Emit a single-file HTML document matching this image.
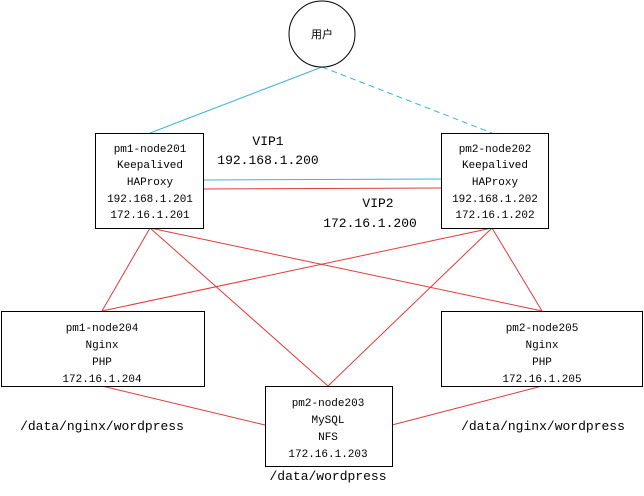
<!DOCTYPE html>
<html><head><style>body{margin:0;background:#fff}</style></head><body>
<svg width="644" height="491" xmlns="http://www.w3.org/2000/svg" font-family="Liberation Mono, monospace">
<g stroke="#3ab4dc" stroke-width="1" fill="none">
<line x1="322" y1="67" x2="150" y2="133"/>
<line x1="322" y1="67" x2="492" y2="133" stroke-dasharray="6,4"/>
<line x1="203" y1="180" x2="441" y2="179"/>
</g>
<g stroke="#e23a3a" stroke-width="1" fill="none">
<line x1="203" y1="189" x2="441" y2="188"/>
<line x1="150" y1="228" x2="102" y2="311"/>
<line x1="150" y1="228" x2="542" y2="311"/>
<line x1="150" y1="228" x2="328" y2="386"/>
<line x1="492" y1="228" x2="102" y2="311"/>
<line x1="492" y1="228" x2="542" y2="311"/>
<line x1="492" y1="228" x2="328" y2="386"/>
<line x1="102" y1="386" x2="265" y2="425"/>
<line x1="542" y1="386" x2="392" y2="425"/>
</g>
<g stroke="#000" fill="#fff">
<circle cx="322" cy="34" r="33"/>
<rect x="95.5" y="133.5" width="108" height="95"/>
<rect x="441.5" y="133.5" width="107" height="95"/>
<rect x="1.5" y="311.5" width="203" height="75"/>
<rect x="441.5" y="311.5" width="201" height="75"/>
<rect x="265.5" y="386.5" width="127" height="80"/>
</g>
<g font-size="11" text-anchor="middle" fill="#000">
<text x="322" y="38" font-family="Noto Sans CJK SC, sans-serif">用户</text>
<text x="150" y="152">pm1-node201</text><text x="150" y="168">Keepalived</text><text x="150" y="185">HAProxy</text><text x="150" y="202">192.168.1.201</text><text x="150" y="218">172.16.1.201</text>
<text x="495" y="152">pm2-node202</text><text x="495" y="168">Keepalived</text><text x="495" y="185">HAProxy</text><text x="495" y="202">192.168.1.202</text><text x="495" y="218">172.16.1.202</text>
<text x="102" y="331">pm1-node204</text><text x="102" y="348">Nginx</text><text x="102" y="365">PHP</text><text x="102" y="382">172.16.1.204</text>
<text x="542" y="331">pm2-node205</text><text x="542" y="348">Nginx</text><text x="542" y="365">PHP</text><text x="542" y="382">172.16.1.205</text>
<text x="328" y="406">pm2-node203</text><text x="328" y="423">MySQL</text><text x="328" y="440">NFS</text><text x="328" y="457">172.16.1.203</text>
</g>
<g font-size="13" text-anchor="middle" fill="#000">
<text x="268" y="145">VIP1</text><text x="268" y="164">192.168.1.200</text>
<text x="378" y="207">VIP2</text><text x="370" y="227">172.16.1.200</text>
<text x="102" y="430">/data/nginx/wordpress</text>
<text x="543" y="430">/data/nginx/wordpress</text>
<text x="328" y="480">/data/wordpress</text>
</g>
</svg>
</body></html>
